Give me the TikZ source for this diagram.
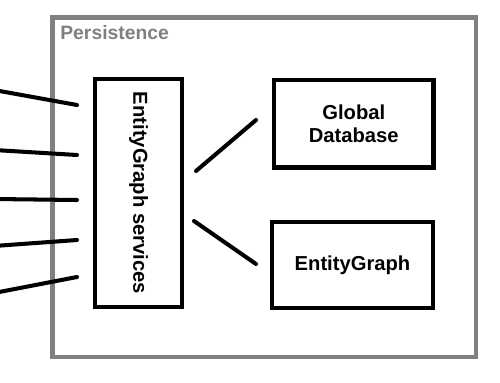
\documentclass[tikz,border=0pt]{standalone}
\usepackage{fontspec}
\setmainfont{Liberation Sans}
\usetikzlibrary{positioning}
\definecolor{framegray}{RGB}{128,128,128}

\begin{document}
\begin{tikzpicture}[x=0.02cm,y=-0.02cm,
  box/.style={draw,line width=2.4pt,inner sep=0pt,align=center,
    font=\bfseries\fontsize{11.5}{13.5}\selectfont},
  wire/.style={line width=2.3pt,line cap=round}]
\useasboundingbox (0,0) rectangle (500,382);
%frame
\draw[framegray,line width=2.8pt] (52.5,17.5) rectangle (476,357);
\node[anchor=base west,inner sep=0pt,text=framegray,
  font=\bfseries\fontsize{11}{13}\selectfont] (title) at (60,39) {Persistence};
%boxes
\node[box,rotate=-90,minimum width=4.57cm,minimum height=1.74cm] (svc) at (138.5,193) {EntityGraph services};
\node[box,minimum width=3.19cm,minimum height=1.75cm] (db) at (353.75,123.75) {Global\\Database};
\node[box,minimum width=3.22cm,minimum height=1.72cm] (eg) at (352.5,265) {EntityGraph};
%incoming lines
\foreach \ya/\yb [count=\i] in {90/105,150/155,199/200,246/240,293/277}{
  \coordinate (src\i) at (-6,\ya);
  \coordinate (in\i) at (77,\yb);
  \draw[wire] (src\i) -- (in\i);
}
%links
\coordinate (svcdb) at (196,171);
\coordinate (dbin) at (256,120);
\coordinate (svceg) at (194,221);
\coordinate (egin) at (256,264);
\draw[wire] (svcdb) -- (dbin);
\draw[wire] (svceg) -- (egin);
\end{tikzpicture}
\end{document}
